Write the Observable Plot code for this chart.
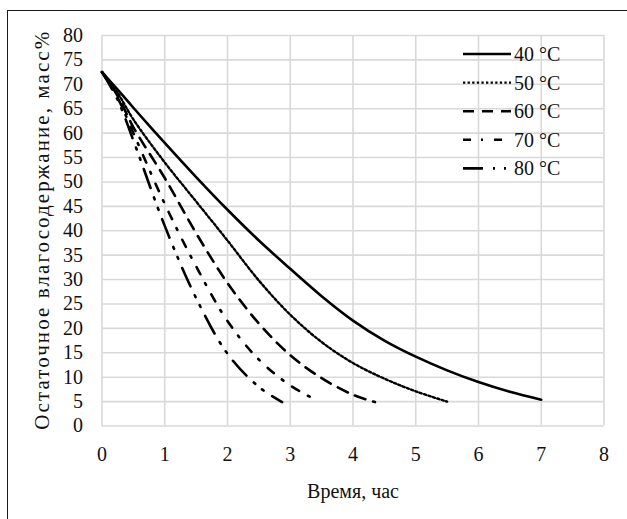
<!DOCTYPE html>
<html>
<head>
<meta charset="utf-8">
<script src="https://cdn.jsdelivr.net/npm/d3@7"></script>
<script src="https://cdn.jsdelivr.net/npm/@observablehq/plot@0.6"></script>
<style>
  body { margin: 0; font-size: 20px; width: 627px; height: 519px; overflow: hidden; position: relative; background: #fff; }
  #chart { position: absolute; left: 0; top: 0; }
  #legend { position: absolute; left: 0; top: 0; font-family: 'Liberation Serif'; font-size: 20px; }
  #frame { position: absolute; left: 7px; top: 10px; width: 700px; height: 600px; border: 1.6px solid #1a1a1a; box-sizing: border-box; pointer-events: none; }
</style>
</head>
<body>
<div id="chart"></div>
<svg id="legend" width="627" height="519" style="font-family:'Liberation Serif';font-size:20px"></svg>
<div id="frame"></div>
<script>
// ---- data ----
const seriesNames = ["40 °C", "50 °C", "60 °C", "70 °C", "80 °C"];

const t40 = [0, 0.25, 0.5, 1, 1.5, 2, 2.5, 3, 3.5, 4, 4.5, 5, 5.5, 6, 6.5, 7];
const w40 = [72.5, 68.9, 65.2, 58, 51, 44.3, 38, 32.2, 26.6, 21.6, 17.5, 14.2, 11.4, 9, 7, 5.4];

const t50 = [0, 0.25, 0.5, 1, 1.5, 2, 2.5, 3, 3.5, 4, 4.5, 5, 5.5];
const w50 = [72.5, 68.2, 62.8, 54, 46, 38, 29.8, 22.8, 17.2, 12.9, 9.7, 7.1, 5];

const t60 = [0, 0.25, 0.5, 1, 1.5, 2, 2.5, 3, 3.5, 4, 4.35];
const w60 = [72.5, 67.6, 61.2, 50.8, 39.5, 29.3, 21, 14.5, 9.8, 6.4, 4.9];

const t70 = [0, 0.25, 0.5, 1, 1.5, 2, 2.5, 3, 3.43];
const w70 = [72.5, 67.2, 60, 45.5, 32.7, 21.5, 13.6, 8.3, 5.2];

const t80 = [0, 0.25, 0.5, 1, 1.5, 2, 2.5, 2.87];
const w80 = [72.5, 66.8, 58.5, 41, 26.2, 14.8, 8, 4.9];

const xTicks = [0, 1, 2, 3, 4, 5, 6, 7, 8];
const yTicks = [0, 5, 10, 15, 20, 25, 30, 35, 40, 45, 50, 55, 60, 65, 70, 75, 80];

const xTitle = "Время, час";
const yTitle = "Остаточное влагосодержание, масс%";

// ---- styles ----
const times = [t40, t50, t60, t70, t80];
const values = [w40, w50, w60, w70, w80];
const dashes = [null, "2.3 2.3", "11 8", "8 10 2 11", "20 10 2 9 2 10"];
const widths = [2.6, 2.4, 2.6, 2.6, 2.6];

const series = seriesNames.map((name, i) => ({
  name,
  data: times[i].map((t, j) => ({ t, w: values[i][j] })),
  dash: dashes[i],
  width: widths[i]
}));

const chart = Plot.plot({
  width: 627,
  height: 519,
  marginLeft: 101.5,
  marginRight: 23.5,
  marginTop: 35,
  marginBottom: 93.5,
  style: { fontFamily: "'Liberation Serif'", fontSize: "20px", overflow: "visible" },
  x: { domain: [0, 8] },
  y: { domain: [0, 80] },
  marks: [
    Plot.gridX(xTicks, { stroke: "#d9d9d9", strokeOpacity: 1, strokeWidth: 1.6 }),
    Plot.gridY(yTicks, { stroke: "#d9d9d9", strokeOpacity: 1, strokeWidth: 1.6 }),
    Plot.axisX(xTicks, { tickSize: 0, tickPadding: 21, label: null, fill: "#111" }),
    Plot.axisY(yTicks, { tickSize: 0, tickPadding: 19, label: null, fill: "#111" }),
    ...series.map(s => Plot.line(s.data, {
      x: "t", y: "w",
      stroke: "#000",
      strokeWidth: s.width,
      strokeDasharray: s.dash,
      curve: "catmull-rom"
    })),
    Plot.text([xTitle], { frameAnchor: "bottom", dy: 66, fill: "#111", lineAnchor: "middle", textAnchor: "middle" }),
    Plot.text([yTitle], { frameAnchor: "left", dx: -59.5, rotate: -90, fill: "#111", lineAnchor: "middle", textAnchor: "middle", fontSize: 21 })
  ]
});
// keep the y title at the reference's length (about 400 px), centred on the plot's height
d3.select(chart).selectAll("text")
  .filter(function () { return this.textContent === yTitle; })
  .attr("textLength", 398).attr("lengthAdjust", "spacing");
document.getElementById("chart").appendChild(chart);

// ---- legend ----
const lg = d3.select("#legend");
const rowY0 = 54, rowStep = 28.6;
series.forEach((s, i) => {
  const y = rowY0 + i * rowStep;
  lg.append("line")
    .attr("x1", 463).attr("x2", 511).attr("y1", y).attr("y2", y)
    .attr("stroke", "#000").attr("stroke-width", s.width)
    .attr("stroke-dasharray", s.dash);
  lg.append("text")
    .attr("x", 514).attr("y", y).attr("dy", "0.35em")
    .attr("fill", "#111")
    .text(s.name);
});
</script>
</body>
</html>
